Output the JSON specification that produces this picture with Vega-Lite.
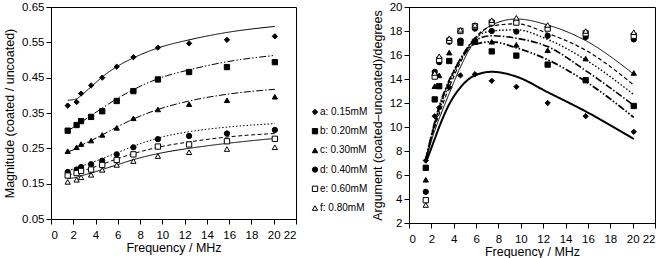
{
  "$schema": "https://vega.github.io/schema/vega-lite/v6.json",
  "padding": {"left": 3, "top": 0, "right": 0, "bottom": 0},
  "config": {
    "font": "Liberation Sans",
    "view": {"stroke": "black", "strokeWidth": 1},
    "axis": {"grid": false, "domainColor": "black", "tickColor": "black", "labelColor": "black", "titleColor": "black", "labelFontSize": 11.5, "titleFontSize": 12.5, "titleFontWeight": "normal", "tickSize": 5, "labelPadding": 2, "labelFont": "Liberation Sans", "titleFont": "Liberation Sans", "labelOverlap": false},
    "axisY": {"labelOverlap": false},
    "axisQuantitative": {"labelOverlap": false},
    "axisX": {"titleFontSize": 12.5, "titlePadding": 1, "labelPadding": 5},
    "concat": {"spacing": 3}
  },
  "datasets": {
    "d": [
      {"s": "a: 0.15mM", "f": 1.5, "m": 0.371, "mf": 0.386, "g": 7.2, "gf": 7.0},
      {"s": "a: 0.15mM", "f": 2.3, "m": 0.381, "mf": 0.390, "g": 10.9, "gf": 9.0},
      {"s": "a: 0.15mM", "f": 2.7, "m": 0.405, "mf": 0.400, "g": 11.6, "gf": 10.0},
      {"s": "a: 0.15mM", "f": 3.6, "m": 0.428, "mf": 0.424, "g": 13.3, "gf": 11.9},
      {"s": "a: 0.15mM", "f": 4.6, "m": 0.450, "mf": 0.452, "g": 14.3, "gf": 13.3},
      {"s": "a: 0.15mM", "f": 5.9, "m": 0.481, "mf": 0.481, "g": 14.4, "gf": 14.3},
      {"s": "a: 0.15mM", "f": 7.4, "m": 0.508, "mf": 0.506, "g": 13.85, "gf": 14.6},
      {"s": "a: 0.15mM", "f": 9.6, "m": 0.535, "mf": 0.534, "g": 13.35, "gf": 14.2},
      {"s": "a: 0.15mM", "f": 12.4, "m": 0.547, "mf": 0.557, "g": 12.0, "gf": 12.9},
      {"s": "a: 0.15mM", "f": 15.8, "m": 0.557, "mf": 0.578, "g": 10.9, "gf": 11.3},
      {"s": "a: 0.15mM", "f": 20.1, "m": 0.567, "mf": 0.595, "g": 9.6, "gf": 9.0},
      {"s": "b: 0.20mM", "f": 1.5, "m": 0.300, "mf": 0.300, "g": 6.6, "gf": 7.3},
      {"s": "b: 0.20mM", "f": 2.3, "m": 0.316, "mf": 0.315, "g": 12.3, "gf": 10.4},
      {"s": "b: 0.20mM", "f": 2.7, "m": 0.327, "mf": 0.324, "g": 13.4, "gf": 11.7},
      {"s": "b: 0.20mM", "f": 3.6, "m": 0.339, "mf": 0.343, "g": 15.5, "gf": 13.9},
      {"s": "b: 0.20mM", "f": 4.6, "m": 0.355, "mf": 0.364, "g": 17.1, "gf": 15.6},
      {"s": "b: 0.20mM", "f": 5.9, "m": 0.384, "mf": 0.390, "g": 17.1, "gf": 16.9},
      {"s": "b: 0.20mM", "f": 7.4, "m": 0.412, "mf": 0.416, "g": 16.3, "gf": 17.1},
      {"s": "b: 0.20mM", "f": 9.6, "m": 0.445, "mf": 0.447, "g": 15.95, "gf": 16.6},
      {"s": "b: 0.20mM", "f": 12.4, "m": 0.466, "mf": 0.472, "g": 15.2, "gf": 15.6},
      {"s": "b: 0.20mM", "f": 15.8, "m": 0.480, "mf": 0.495, "g": 13.9, "gf": 13.8},
      {"s": "b: 0.20mM", "f": 20.1, "m": 0.494, "mf": 0.513, "g": 11.75, "gf": 10.8},
      {"s": "c: 0.30mM", "f": 1.5, "m": 0.242, "mf": 0.240, "g": 5.6, "gf": 7.3},
      {"s": "c: 0.30mM", "f": 2.3, "m": 0.253, "mf": 0.250, "g": 13.4, "gf": 10.3},
      {"s": "c: 0.30mM", "f": 2.7, "m": 0.262, "mf": 0.258, "g": 14.3, "gf": 11.6},
      {"s": "c: 0.30mM", "f": 3.6, "m": 0.272, "mf": 0.272, "g": 16.2, "gf": 13.8},
      {"s": "c: 0.30mM", "f": 4.6, "m": 0.288, "mf": 0.288, "g": 17.0, "gf": 15.7},
      {"s": "c: 0.30mM", "f": 5.9, "m": 0.308, "mf": 0.310, "g": 17.3, "gf": 17.2},
      {"s": "c: 0.30mM", "f": 7.4, "m": 0.335, "mf": 0.333, "g": 17.1, "gf": 17.6},
      {"s": "c: 0.30mM", "f": 9.6, "m": 0.360, "mf": 0.360, "g": 16.85, "gf": 17.4},
      {"s": "c: 0.30mM", "f": 12.4, "m": 0.375, "mf": 0.384, "g": 16.4, "gf": 16.7},
      {"s": "c: 0.30mM", "f": 15.8, "m": 0.386, "mf": 0.403, "g": 15.7, "gf": 14.7},
      {"s": "c: 0.30mM", "f": 20.1, "m": 0.396, "mf": 0.417, "g": 14.5, "gf": 11.8},
      {"s": "d: 0.40mM", "f": 1.5, "m": 0.183, "mf": 0.188, "g": 4.6, "gf": 7.3},
      {"s": "d: 0.40mM", "f": 2.3, "m": 0.190, "mf": 0.194, "g": 14.6, "gf": 10.2},
      {"s": "d: 0.40mM", "f": 2.7, "m": 0.197, "mf": 0.199, "g": 15.4, "gf": 11.4},
      {"s": "d: 0.40mM", "f": 3.6, "m": 0.205, "mf": 0.209, "g": 17.1, "gf": 13.6},
      {"s": "d: 0.40mM", "f": 4.6, "m": 0.215, "mf": 0.221, "g": 17.2, "gf": 15.6},
      {"s": "d: 0.40mM", "f": 5.9, "m": 0.233, "mf": 0.237, "g": 18.2, "gf": 17.4},
      {"s": "d: 0.40mM", "f": 7.4, "m": 0.253, "mf": 0.256, "g": 18.0, "gf": 18.0},
      {"s": "d: 0.40mM", "f": 9.6, "m": 0.276, "mf": 0.279, "g": 17.95, "gf": 18.1},
      {"s": "d: 0.40mM", "f": 12.4, "m": 0.285, "mf": 0.297, "g": 17.6, "gf": 17.3},
      {"s": "d: 0.40mM", "f": 15.8, "m": 0.292, "mf": 0.310, "g": 17.5, "gf": 15.6},
      {"s": "d: 0.40mM", "f": 20.1, "m": 0.302, "mf": 0.320, "g": 17.3, "gf": 12.7},
      {"s": "e: 0.60mM", "f": 1.5, "m": 0.173, "mf": 0.175, "g": 3.9, "gf": 7.3},
      {"s": "e: 0.60mM", "f": 2.3, "m": 0.180, "mf": 0.180, "g": 14.2, "gf": 10.0},
      {"s": "e: 0.60mM", "f": 2.7, "m": 0.186, "mf": 0.185, "g": 15.6, "gf": 11.1},
      {"s": "e: 0.60mM", "f": 3.6, "m": 0.190, "mf": 0.194, "g": 17.2, "gf": 13.3},
      {"s": "e: 0.60mM", "f": 4.6, "m": 0.203, "mf": 0.205, "g": 18.0, "gf": 15.4},
      {"s": "e: 0.60mM", "f": 5.9, "m": 0.217, "mf": 0.220, "g": 18.4, "gf": 17.4},
      {"s": "e: 0.60mM", "f": 7.4, "m": 0.233, "mf": 0.235, "g": 18.7, "gf": 18.4},
      {"s": "e: 0.60mM", "f": 9.6, "m": 0.255, "mf": 0.253, "g": 18.7, "gf": 18.6},
      {"s": "e: 0.60mM", "f": 12.4, "m": 0.261, "mf": 0.268, "g": 18.2, "gf": 17.8},
      {"s": "e: 0.60mM", "f": 15.8, "m": 0.270, "mf": 0.282, "g": 17.8, "gf": 16.4},
      {"s": "e: 0.60mM", "f": 20.1, "m": 0.277, "mf": 0.292, "g": 17.6, "gf": 13.5},
      {"s": "f: 0.80mM", "f": 1.5, "m": 0.155, "mf": 0.165, "g": 3.5, "gf": 7.2},
      {"s": "f: 0.80mM", "f": 2.3, "m": 0.161, "mf": 0.168, "g": 14.5, "gf": 9.7},
      {"s": "f: 0.80mM", "f": 2.7, "m": 0.168, "mf": 0.172, "g": 15.9, "gf": 10.7},
      {"s": "f: 0.80mM", "f": 3.6, "m": 0.175, "mf": 0.180, "g": 17.4, "gf": 12.8},
      {"s": "f: 0.80mM", "f": 4.6, "m": 0.189, "mf": 0.190, "g": 18.1, "gf": 15.0},
      {"s": "f: 0.80mM", "f": 5.9, "m": 0.203, "mf": 0.203, "g": 18.5, "gf": 17.2},
      {"s": "f: 0.80mM", "f": 7.4, "m": 0.214, "mf": 0.218, "g": 18.9, "gf": 18.5},
      {"s": "f: 0.80mM", "f": 9.6, "m": 0.228, "mf": 0.235, "g": 19.1, "gf": 19.0},
      {"s": "f: 0.80mM", "f": 12.4, "m": 0.239, "mf": 0.250, "g": 18.5, "gf": 18.5},
      {"s": "f: 0.80mM", "f": 15.8, "m": 0.248, "mf": 0.264, "g": 18.0, "gf": 17.2},
      {"s": "f: 0.80mM", "f": 20.1, "m": 0.253, "mf": 0.278, "g": 17.9, "gf": 14.4}
    ]
  },
  "hconcat": [
    {
      "width": 245,
      "height": 212,
      "data": {"name": "d"},
      "transform": [{"fold": ["mf", "m"], "as": ["k", "v"]}],
      "encoding": {
        "x": {"field": "f", "type": "quantitative", "scale": {"domain": [0, 22], "nice": false}, "axis": {"values": [0, 2, 4, 6, 8, 10, 12, 14, 16, 18, 20, 22], "title": "Frequency / MHz", "labelOverlap": false}},
        "y": {"field": "v", "type": "quantitative", "scale": {"domain": [0.05, 0.65], "nice": false, "zero": false}, "axis": {"values": [0.05, 0.15, 0.25, 0.35, 0.45, 0.55, 0.65], "format": ".2f", "title": "Magnitude (coated / uncoated)", "titlePadding": 5, "labelOverlap": false}}
      },
      "layer": [
        {
          "transform": [{"filter": "datum.k == 'mf'"}],
          "mark": {"type": "line", "interpolate": "monotone", "color": "black", "strokeWidth": 1},
          "encoding": {
            "strokeDash": {"field": "s", "type": "nominal", "scale": {"domain": ["a: 0.15mM", "b: 0.20mM", "c: 0.30mM", "d: 0.40mM", "e: 0.60mM", "f: 0.80mM"], "range": [[1, 0], [7, 2, 1.5, 2, 1.5, 2], [7, 2, 1.5, 2], [1.5, 2], [4, 2.5], [1, 0]]}, "legend": null}
          }
        },
        {
          "transform": [{"filter": "datum.k == 'm'"}],
          "mark": {"type": "point", "filled": true, "stroke": "black", "strokeWidth": 1, "opacity": 1, "size": 28},
          "encoding": {
            "shape": {"field": "s", "type": "nominal", "scale": {"domain": ["a: 0.15mM", "b: 0.20mM", "c: 0.30mM", "d: 0.40mM", "e: 0.60mM", "f: 0.80mM"], "range": ["diamond", "square", "triangle-up", "circle", "square", "triangle-up"]}, "legend": null},
            "fill": {"field": "s", "type": "nominal", "scale": {"domain": ["a: 0.15mM", "b: 0.20mM", "c: 0.30mM", "d: 0.40mM", "e: 0.60mM", "f: 0.80mM"], "range": ["black", "black", "black", "black", "white", "white"]}, "legend": null}
          }
        }
      ]
    },
    {
      "width": 30,
      "height": 212,
      "view": {"stroke": null},
      "data": {"name": "d"},
      "transform": [{"filter": "datum.f == 1.5"}],
      "encoding": {
        "y": {"field": "s", "type": "nominal", "axis": null, "scale": {"type": "point", "domain": [" ", "  ", "   ", "    ", "     ", "a: 0.15mM", "b: 0.20mM", "c: 0.30mM", "d: 0.40mM", "e: 0.60mM", "f: 0.80mM"], "padding": 0.52, "align": 0.45}}
      },
      "layer": [
        {
          "mark": {"type": "point", "filled": true, "stroke": "black", "strokeWidth": 1, "opacity": 1, "size": 28},
          "encoding": {
            "shape": {"field": "s", "type": "nominal", "legend": null},
            "fill": {"field": "s", "type": "nominal", "legend": null}
          }
        },
        {
          "mark": {"type": "text", "align": "left", "baseline": "middle", "dx": 5, "fontSize": 10, "font": "Liberation Sans", "color": "black"},
          "encoding": {"text": {"field": "s", "type": "nominal"}}
        }
      ]
    },
    {
      "width": 246,
      "height": 216,
      "data": {"name": "d"},
      "transform": [{"fold": ["gf", "g"], "as": ["k", "v"]}],
      "encoding": {
        "x": {"field": "f", "type": "quantitative", "scale": {"domain": [0, 22], "nice": false}, "axis": {"values": [0, 2, 4, 6, 8, 10, 12, 14, 16, 18, 20, 22], "title": "Frequency / MHz", "labelOverlap": false}},
        "y": {"field": "v", "type": "quantitative", "scale": {"domain": [2, 20], "nice": false, "zero": false}, "axis": {"values": [2, 4, 6, 8, 10, 12, 14, 16, 18, 20], "title": "Argument (coated\u2013uncoated)/degrees", "titlePadding": 4.5, "labelOverlap": false}}
      },
      "layer": [
        {
          "transform": [{"filter": "datum.k == 'gf'"}],
          "mark": {"type": "line", "interpolate": "monotone", "color": "black"},
          "encoding": {
            "strokeDash": {"field": "s", "type": "nominal", "legend": null},
            "strokeWidth": {"field": "s", "type": "nominal", "scale": {"domain": ["a: 0.15mM", "b: 0.20mM", "c: 0.30mM", "d: 0.40mM", "e: 0.60mM", "f: 0.80mM"], "range": [2, 1, 1, 1, 1, 1]}, "legend": null}
          }
        },
        {
          "transform": [{"filter": "datum.k == 'g'"}],
          "mark": {"type": "point", "filled": true, "stroke": "black", "strokeWidth": 1, "opacity": 1, "size": 28},
          "encoding": {
            "shape": {"field": "s", "type": "nominal", "legend": null},
            "fill": {"field": "s", "type": "nominal", "legend": null}
          }
        }
      ]
    }
  ]
}
